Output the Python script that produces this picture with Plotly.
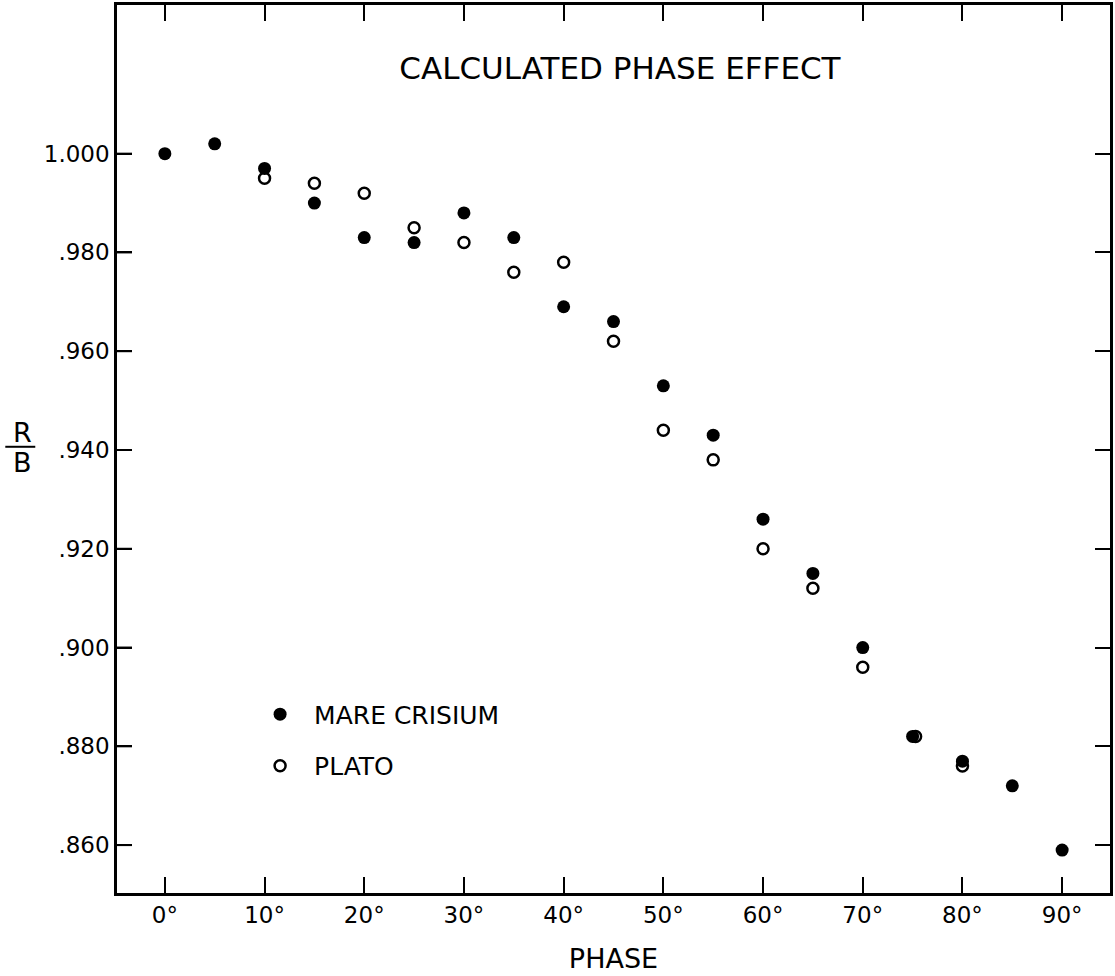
import plotly.graph_objects as go

# Phase angle (degrees)
phase_mare = [0, 5, 10, 15, 20, 25, 30, 35, 40, 45, 50, 55, 60, 65, 70, 75, 80, 85, 90]
rb_mare = [1.000, 1.002, 0.997, 0.990, 0.983, 0.982, 0.988, 0.983, 0.969, 0.966,
           0.953, 0.943, 0.926, 0.915, 0.900, 0.882, 0.877, 0.872, 0.859]

phase_plato = [10, 15, 20, 25, 30, 35, 40, 45, 50, 55, 60, 65, 70, 75.3, 80]
rb_plato = [0.995, 0.994, 0.992, 0.985, 0.982, 0.976, 0.978, 0.962,
            0.944, 0.938, 0.920, 0.912, 0.896, 0.882, 0.876]

x_ticks = [0, 10, 20, 30, 40, 50, 60, 70, 80, 90]
x_ticktext = ["0°", "10°", "20°", "30°", "40°", "50°", "60°", "70°", "80°", "90°"]
y_ticks = [0.86, 0.88, 0.90, 0.92, 0.94, 0.96, 0.98, 1.00]
y_ticktext = [".860", ".880", ".900", ".920", ".940", ".960", ".980", "1.000"]
y_range = [0.8503, 1.0301]

FONT = "DejaVu Sans"

fig = go.Figure()
fig.add_trace(go.Scatter(
    x=phase_mare, y=rb_mare, mode="markers", name="MARE CRISIUM",
    legendgroup="a",
    marker=dict(symbol="circle", size=13, color="black"),
))
fig.add_trace(go.Scatter(
    x=phase_plato, y=rb_plato, mode="markers", name="PLATO",
    legendgroup="b",
    marker=dict(symbol="circle-open", size=11, color="black", line=dict(width=2.5, color="black")),
))

fig.update_layout(
    width=1115, height=976,
    margin=dict(l=117, r=2, t=4, b=83),
    paper_bgcolor="white", plot_bgcolor="white",
    font=dict(family=FONT, color="black", size=23),
    title=dict(text="CALCULATED PHASE EFFECT", x=0.556, y=0.930,
               xanchor="center", yanchor="middle",
               font=dict(family=FONT, size=31, color="black")),
    showlegend=True,
    legend=dict(x=0.130, y=0.227, xanchor="left", yanchor="top",
                bgcolor="rgba(0,0,0,0)", font=dict(size=25, family=FONT),
                traceorder="grouped", tracegroupgap=16, itemwidth=58),
    xaxis=dict(range=[-4.8, 94.8], tickvals=x_ticks, ticktext=x_ticktext,
               ticks="inside", ticklen=16, tickwidth=2, tickcolor="black",
               showline=True, linewidth=2.5, linecolor="black", mirror="ticks",
               showgrid=False, zeroline=False,
               tickfont=dict(size=23, family=FONT),
               title=dict(text="PHASE", font=dict(size=27, family=FONT), standoff=22)),
    yaxis=dict(range=y_range, tickvals=y_ticks, ticktext=y_ticktext,
               ticks="inside", ticklen=15, tickwidth=2, tickcolor="black",
               showline=True, linewidth=2.5, linecolor="black", mirror="ticks",
               showgrid=False, zeroline=False,
               tickfont=dict(size=23, family=FONT)),
)

# inner tick marks along the left frame edge, placed on the y scale at the tick values
for v in y_ticks:
    fig.add_shape(type="line", xref="x domain", yref="y", x0=0, x1=0.0151,
                  y0=v, y1=v, layer="above", line=dict(color="black", width=2))

# R/B fraction label
fig.add_annotation(text="R", xref="paper", yref="paper", x=-0.0954, y=0.5186,
                   showarrow=False, xanchor="center", yanchor="middle",
                   font=dict(size=27, family=FONT))
fig.add_annotation(text="B", xref="paper", yref="paper", x=-0.0954, y=0.4848,
                   showarrow=False, xanchor="center", yanchor="middle",
                   font=dict(size=27, family=FONT))
fig.add_shape(type="line", xref="paper", yref="paper", x0=-0.1125, x1=-0.0823,
              y0=0.5025, y1=0.5025, line=dict(color="black", width=2))

fig.write_html("out.html", config={"displayModeBar": False},
               post_script="document.body.style.margin='0';document.body.style.overflow='hidden';")
